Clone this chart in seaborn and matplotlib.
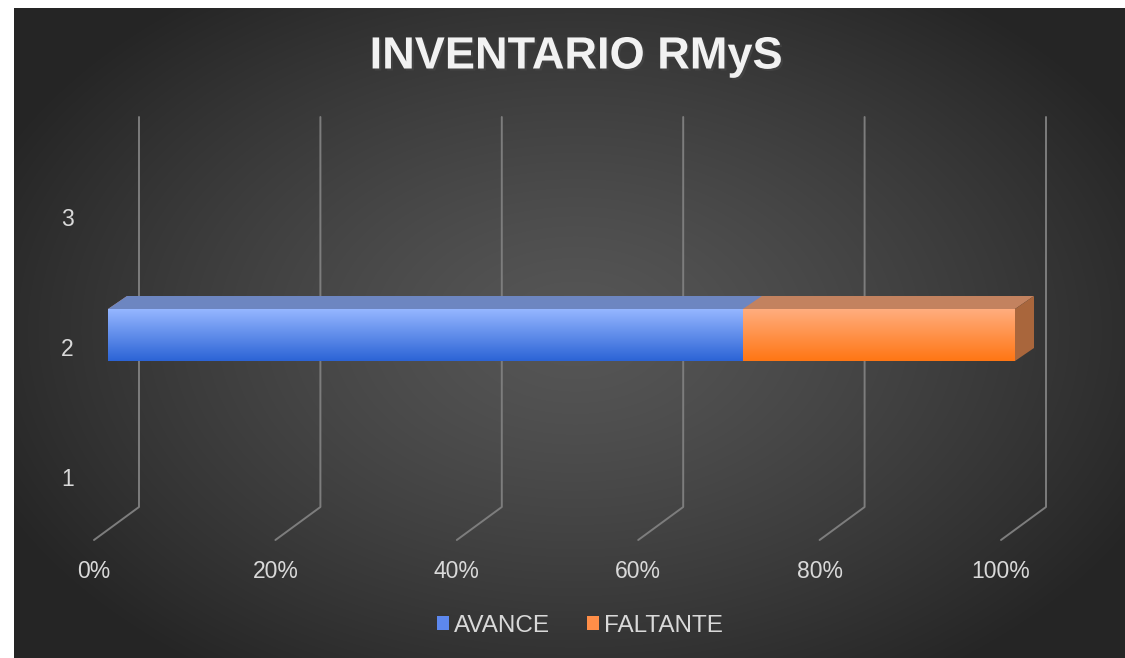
import numpy as np
import pandas as pd
import matplotlib
matplotlib.use("Agg")
import matplotlib.pyplot as plt
import seaborn as sns
from matplotlib.patches import Polygon
from matplotlib.lines import Line2D
from matplotlib.transforms import ScaledTranslation, IdentityTransform
import matplotlib.patheffects as pe

# ---------------- data ----------------
categorias = ['1', '2', '3']
avance = [0, 70, 0]
faltante = [0, 30, 0]
series = ['AVANCE', 'FALTANTE']
ticks_pct = [0, 20, 40, 60, 80, 100]
tick_labels = ['0%', '20%', '40%', '60%', '80%', '100%']
titulo = 'INVENTARIO RMyS'

df = pd.DataFrame({'cat': categorias, 'AVANCE': avance, 'FALTANTE': faltante})
df['TOTAL'] = df['AVANCE'] + df['FALTANTE']
orden = ['3', '2', '1']

# ---------------- style ----------------
sns.set_theme(style='white')
plt.rcParams['font.family'] = ['Liberation Sans', 'DejaVu Sans']

W, H = 1125, 658
fig = plt.figure(figsize=(W / 100, H / 100), dpi=100, facecolor='white')

# dark radial background panel
bg = fig.add_axes([14 / W, 0, 1 - 14 / W, 650 / H])
bg.axis('off')
xs = np.arange(14, W)
ys = np.arange(8, H)
XX, YY = np.meshgrid(xs, ys)
r = np.sqrt(((XX - 575) / 640.0) ** 2 + ((YY - 330) / 420.0) ** 2)
r = np.clip(r, 0, 1) ** 1.3
c_center = np.array([0x56, 0x56, 0x56]) / 255
c_edge = np.array([0x25, 0x25, 0x25]) / 255
img = c_center[None, None, :] + (c_edge - c_center)[None, None, :] * r[..., None]
bg.imshow(img, aspect='auto', extent=[0, 1, 0, 1], interpolation='bilinear')
bg.set_xlim(0, 1)
bg.set_ylim(0, 1)

# main axes (front plane of the bars)
ax = fig.add_axes([108 / W, 1 - 530 / H, 907 / W, 390 / H])
ax.patch.set_alpha(0)

blue_mid = '#5d88ee'
orange_mid = '#ff8e48'
sns.barplot(data=df, y='cat', x='TOTAL', order=orden, orient='h', color=orange_mid,
            width=0.4, errorbar=None, ax=ax, zorder=2, edgecolor='none', saturation=1)
n1 = len(ax.patches)
sns.barplot(data=df, y='cat', x='AVANCE', order=orden, orient='h', color=blue_mid,
            width=0.4, errorbar=None, ax=ax, zorder=3, edgecolor='none', saturation=1)
if ax.get_legend() is not None:
    ax.get_legend().remove()

orange_patches = ax.patches[:n1]
blue_patches = ax.patches[n1:]

ax.set_xlim(0, 100)
ax.set_ylim(2.5, -0.5)


def grad(top, bottom, n=80):
    t = np.linspace(0, 1, n)[:, None, None]
    a = np.array(matplotlib.colors.to_rgb(top))[None, None, :]
    b = np.array(matplotlib.colors.to_rgb(bottom))[None, None, :]
    return a + (b - a) * t


def add_gradient(p, top, bottom):
    x0, y0 = p.get_x(), p.get_y()
    w, h = p.get_width(), p.get_height()
    im = ax.imshow(grad(top, bottom), extent=(x0, x0 + w, y0 + h, y0), aspect='auto',
                   interpolation='bilinear', zorder=p.get_zorder() + 0.05)
    im.set_clip_path(p)


for p in orange_patches:
    if p.get_width() > 0:
        add_gradient(p, '#ffad7e', '#ff7614')
for p in blue_patches:
    if p.get_width() > 0:
        add_gradient(p, '#95b6ff', '#2c64d6')

ax.set_xlim(0, 100)
ax.set_ylim(2.5, -0.5)


def disp(x, y, dx=0, dy=0):
    px, py = ax.transData.transform((x, y))
    return (px + dx, py - dy)


DX, DY = 19, -13  # bar depth in pixels (image coords)

# top faces
for patches, col in [(orange_patches, '#c3825f'), (blue_patches, '#6d86c1')]:
    for p in patches:
        if p.get_width() <= 0:
            continue
        x0, y0, w = p.get_x(), p.get_y(), p.get_width()
        pts = [disp(x0, y0), disp(x0 + w, y0), disp(x0 + w, y0, DX, DY), disp(x0, y0, DX, DY)]
        ax.add_patch(Polygon(pts, closed=True, facecolor=col, edgecolor='none',
                             transform=IdentityTransform(), zorder=4, clip_on=False))

# side face (end of stacked bar)
for p in orange_patches:
    if p.get_width() <= 0:
        continue
    x1 = p.get_x() + p.get_width()
    y0, h = p.get_y(), p.get_height()
    pts = [disp(x1, y0), disp(x1, y0 + h), disp(x1, y0 + h, DX, DY), disp(x1, y0, DX, DY)]
    ax.add_patch(Polygon(pts, closed=True, facecolor='#a9663c', edgecolor='none',
                         transform=IdentityTransform(), zorder=4, clip_on=False))

# 3D gridlines: back wall + floor
for v in ticks_pct:
    top = disp(v, -0.5, 31, -23)
    bot = disp(v, 2.5, 31, -23)
    front = disp(v, 2.5, -14, 10)
    ax.add_line(Line2D([top[0], bot[0], front[0]], [top[1], bot[1], front[1]],
                       color='#7d7d7d', lw=1.4, transform=IdentityTransform(),
                       zorder=1, clip_on=False))

# axes text
for s in ax.spines.values():
    s.set_visible(False)
ax.grid(False)
ax.set_xlabel('')
ax.set_ylabel('')
ax.set_xticks(ticks_pct, tick_labels)
ax.set_yticks([0, 1, 2], orden)
ax.tick_params(axis='x', length=0, pad=21.5, labelsize=16.5, labelcolor='#d9d9d9')
ax.tick_params(axis='y', length=0, pad=24.5, labelsize=16.5, labelcolor='#d9d9d9')
for lab in ax.get_xticklabels():
    lab.set_transform(lab.get_transform() + ScaledTranslation(-14 / 100, 0, fig.dpi_scale_trans))
for lab in ax.get_yticklabels():
    lab.set_transform(lab.get_transform() + ScaledTranslation(0, -12 / 100, fig.dpi_scale_trans))

# title
fig.text(576 / W, 1 - 68.5 / H, titulo, ha='center', va='baseline', fontsize=32.5,
         fontweight='bold', color='#f2f2f2',
         path_effects=[pe.SimplePatchShadow(offset=(1.5, -1.5), alpha=0.6), pe.Normal()])

# legend
handles = [ax.containers[1], ax.containers[0]]
leg = fig.legend(handles, series, loc='center', bbox_to_anchor=(580 / W, 1 - 626 / H),
                 ncol=2, frameon=False, fontsize=17.5, handlelength=0.5, handleheight=0.5,
                 handletextpad=0.2, columnspacing=1.5)
for t in leg.get_texts():
    t.set_color('#d9d9d9')

fig.savefig('out.png', dpi=100, facecolor='white')
